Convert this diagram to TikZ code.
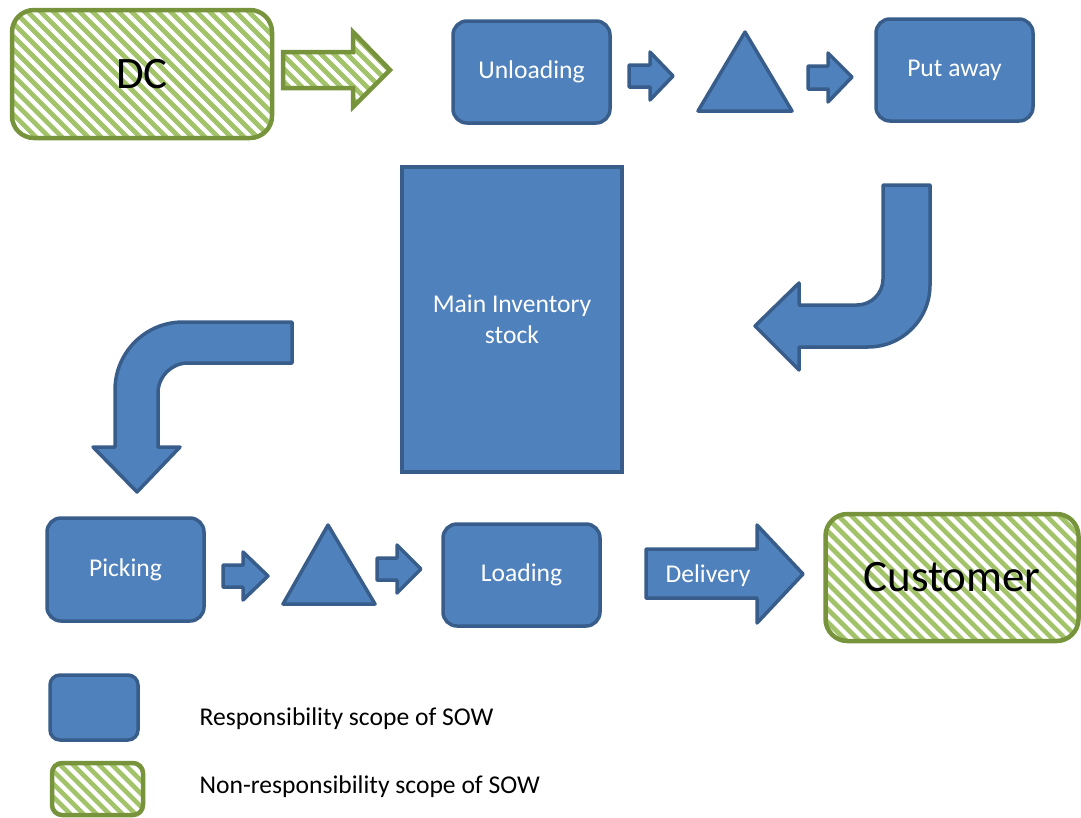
\documentclass[tikz,border=0pt]{standalone}
\usepackage{fontspec}
\setmainfont{Carlito}
\usetikzlibrary{calc}

\definecolor{bluefill}{HTML}{4F81BD}
\definecolor{blueline}{HTML}{385D8A}
\definecolor{greenline}{HTML}{77933C}
\definecolor{greenstripe}{HTML}{A3C36A}

\tikzset{
  labelfont/.style={font=\fontsize{25.6}{30.5}\selectfont},
  bigfont/.style={font=\fontsize{45}{50}\selectfont},
  bluebox/.style={draw=blueline, fill=bluefill, line width=3.5pt, rounded corners=14pt,
    text=white, labelfont, align=center, inner sep=0pt},
  blueshape/.style={draw=blueline, fill=bluefill, line width=3.5pt, line join=round},
  hatched/.style={path picture={
      \foreach \k in {-22,...,22}
        \draw[line width=4.6pt, greenstripe]
          ($(path picture bounding box.center)+(\k*13pt,0pt)$) ++(-220pt,220pt) -- ++(440pt,-440pt);
    }},
  greenbox/.style={draw=greenline, fill=white, hatched, line width=4.5pt, rounded corners=22pt,
    text=black, inner sep=0pt},
  greenshape/.style={draw=greenline, fill=white, hatched, line width=4.5pt, line join=miter},
}

\begin{document}
\begin{tikzpicture}[x=1pt, y=-1pt]
\useasboundingbox (0,0) rectangle (1081,817);

% ---- top row: inbound ----
\node[greenbox, bigfont, minimum width=260pt, minimum height=128pt] (dc) at (142,74) {DC};
\path[greenshape] (283,52) -- (353,52) -- (353,32) -- (390,70) -- (353,107) -- (353,88) -- (283,88) -- cycle;

\node[bluebox, minimum width=157pt, minimum height=102pt] (unload) at (531.5,72) {Unloading};
\path[blueshape] (629,65) -- (650,65) -- (650,52) -- (673,76) -- (650,100) -- (650,87) -- (629,87) -- cycle;
\path[blueshape] (745,32) -- (792,111) -- (698,111) -- cycle;
\path[blueshape] (808,66) -- (828,66) -- (828,53) -- (852,77) -- (828,102) -- (828,89) -- (808,89) -- cycle;
\node[bluebox, minimum width=157pt, minimum height=102pt] (putaway) at (954.5,70) {Put away};

% ---- central stock ----
\node[bluebox, rounded corners=0pt, minimum width=220pt, minimum height=305pt] (stock) at (512,319.5)
  {Main Inventory\\stock};

% bent arrow: put away -> stock
\path[blueshape] (883,185) -- (930,185) -- (930,285)
  arc[start angle=0, end angle=90, radius=62] -- (799,347) -- (799,370) -- (755,326)
  -- (799,283) -- (799,305) -- (857,305) arc[start angle=90, end angle=0, radius=26] -- cycle;

% bent arrow: stock -> picking
\path[blueshape] (292,322) -- (183,322)
  arc[start angle=270, end angle=180, radius=68] -- (115,447) -- (93,447) -- (137,492)
  -- (180,447) -- (158,447) -- (158,393) arc[start angle=180, end angle=270, radius=30]
  -- (292,363) -- cycle;

% ---- bottom row: outbound ----
\node[bluebox, minimum width=157pt, minimum height=103pt] (pick) at (125.5,569.5) {Picking};
\path[blueshape] (223,565) -- (243,565) -- (243,552) -- (268,576) -- (243,600) -- (243,587) -- (223,587) -- cycle;
\path[blueshape] (328,525) -- (375,604) -- (283,604) -- cycle;
\path[blueshape] (377,558) -- (397,558) -- (397,545) -- (421,569) -- (397,593) -- (397,580) -- (377,580) -- cycle;
\node[bluebox, minimum width=157pt, minimum height=102pt] (load) at (521.5,575) {Loading};

\path[blueshape] (646,549) -- (757,549) -- (757,525) -- (803,574) -- (757,623) -- (757,598) -- (646,598) -- cycle;
\node[labelfont, text=white] (delivery) at (708,576) {Delivery};

\node[greenbox, bigfont, minimum width=253pt, minimum height=127pt] (customer) at (952,577.5) {Customer};

% ---- legend ----
\node[bluebox, rounded corners=10pt, minimum width=88pt, minimum height=65pt] (keyin) at (94,707.5) {};
\node[labelfont, anchor=west] (keyintext) at (196,718.5) {Responsibility scope of SOW};
\node[greenbox, rounded corners=10pt, minimum width=91pt, minimum height=52pt] (keyout) at (97.5,789) {};
\node[labelfont, anchor=west] (keyouttext) at (196,786.5) {Non-responsibility scope of SOW};
\end{tikzpicture}
\end{document}
